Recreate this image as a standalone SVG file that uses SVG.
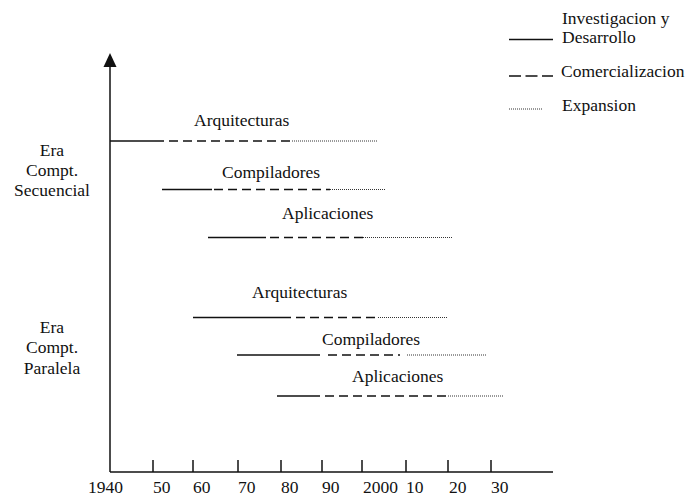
<svg xmlns="http://www.w3.org/2000/svg" width="685" height="500" viewBox="0 0 685 500">
  <style>
    text { font-family: 'Liberation Serif', 'Times New Roman', serif; font-size: 17.5px; fill: #111; }
    .mid { text-anchor: middle; }
    .axis { stroke: #111; stroke-width: 1.5; fill: none; }
    .rd { stroke: #111; stroke-width: 1.4; fill: none; }
    .com { stroke: #111; stroke-width: 1.4; fill: none; stroke-dasharray: 9 5; }
    .exp { stroke: #333; stroke-width: 1; fill: none; stroke-dasharray: 1 1; }
  </style>
  <rect width="685" height="500" fill="#fff"/>

  <!-- axes -->
  <g id="axes">
    <line class="axis" x1="110" y1="472" x2="110" y2="64"/>
    <polygon points="110,53 103.5,67 116.5,67" fill="#111"/>
    <line class="axis" x1="110" y1="472" x2="553" y2="472"/>
    <g class="axis">
      <line x1="153" y1="460" x2="153" y2="472"/>
      <line x1="193" y1="460" x2="193" y2="472"/>
      <line x1="238" y1="460" x2="238" y2="472"/>
      <line x1="281" y1="460" x2="281" y2="472"/>
      <line x1="322" y1="460" x2="322" y2="472"/>
      <line x1="362" y1="460" x2="362" y2="472"/>
      <line x1="406" y1="460" x2="406" y2="472"/>
      <line x1="448" y1="460" x2="448" y2="472"/>
      <line x1="491" y1="460" x2="491" y2="472"/>
    </g>
    <text x="88" y="493">1940</text>
    <text x="153" y="493">50</text>
    <text x="193" y="493">60</text>
    <text x="238" y="493">70</text>
    <text x="281" y="493">80</text>
    <text x="322" y="493">90</text>
    <text x="363" y="493">2000</text>
    <text x="406" y="493">10</text>
    <text x="449" y="493">20</text>
    <text x="491" y="493">30</text>
  </g>

  <!-- era labels -->
  <g id="era-secuencial">
    <text class="mid" x="52" y="156">Era</text>
    <text class="mid" x="52" y="176">Compt.</text>
    <text class="mid" x="52" y="196">Secuencial</text>
  </g>
  <g id="era-paralela">
    <text class="mid" x="52" y="333">Era</text>
    <text class="mid" x="52" y="353">Compt.</text>
    <text class="mid" x="52" y="374">Paralela</text>
  </g>

  <!-- legend -->
  <g id="legend">
    <line class="rd" x1="509" y1="39.5" x2="553" y2="39.5"/>
    <text x="562" y="24">Investigacion y</text>
    <text x="562" y="43">Desarrollo</text>
    <line class="com" x1="509" y1="76" x2="553" y2="76" style="stroke-dasharray:12 4.5"/>
    <text x="561" y="77">Comercializacion</text>
    <line class="exp" x1="509" y1="109" x2="543" y2="109"/>
    <text x="562" y="111">Expansion</text>
  </g>

  <!-- timelines, sequential era -->
  <g id="seq-arquitecturas">
    <text x="194" y="126">Arquitecturas</text>
    <line class="rd" x1="110" y1="141" x2="155" y2="141"/>
    <line class="com" x1="155" y1="141" x2="292" y2="141"/>
    <line class="exp" x1="292" y1="141" x2="377" y2="141"/>
  </g>
  <g id="seq-compiladores">
    <text x="222" y="178">Compiladores</text>
    <line class="rd" x1="162" y1="189.5" x2="212" y2="189.5"/>
    <line class="com" x1="214" y1="189.5" x2="330" y2="189.5"/>
    <line class="exp" x1="330" y1="189.5" x2="385" y2="189.5"/>
  </g>
  <g id="seq-aplicaciones">
    <text x="282" y="219">Aplicaciones</text>
    <line class="rd" x1="208" y1="237.5" x2="266" y2="237.5"/>
    <line class="com" x1="270" y1="237.5" x2="363" y2="237.5"/>
    <line class="exp" x1="363" y1="237.5" x2="453" y2="237.5"/>
  </g>

  <!-- timelines, parallel era -->
  <g id="par-arquitecturas">
    <text x="252" y="298">Arquitecturas</text>
    <line class="rd" x1="193" y1="317.5" x2="282" y2="317.5"/>
    <line class="com" x1="282" y1="317.5" x2="378" y2="317.5"/>
    <line class="exp" x1="378" y1="317.5" x2="447" y2="317.5"/>
  </g>
  <g id="par-compiladores">
    <text x="322" y="345">Compiladores</text>
    <line class="rd" x1="237" y1="355" x2="320" y2="355"/>
    <line class="com" x1="328" y1="355" x2="400" y2="355"/>
    <line class="exp" x1="407" y1="355" x2="486" y2="355"/>
  </g>
  <g id="par-aplicaciones">
    <text x="352" y="382">Aplicaciones</text>
    <line class="rd" x1="277" y1="396" x2="320" y2="396"/>
    <line class="com" x1="325" y1="396" x2="448" y2="396"/>
    <line class="exp" x1="448" y1="396" x2="503" y2="396"/>
  </g>
</svg>
